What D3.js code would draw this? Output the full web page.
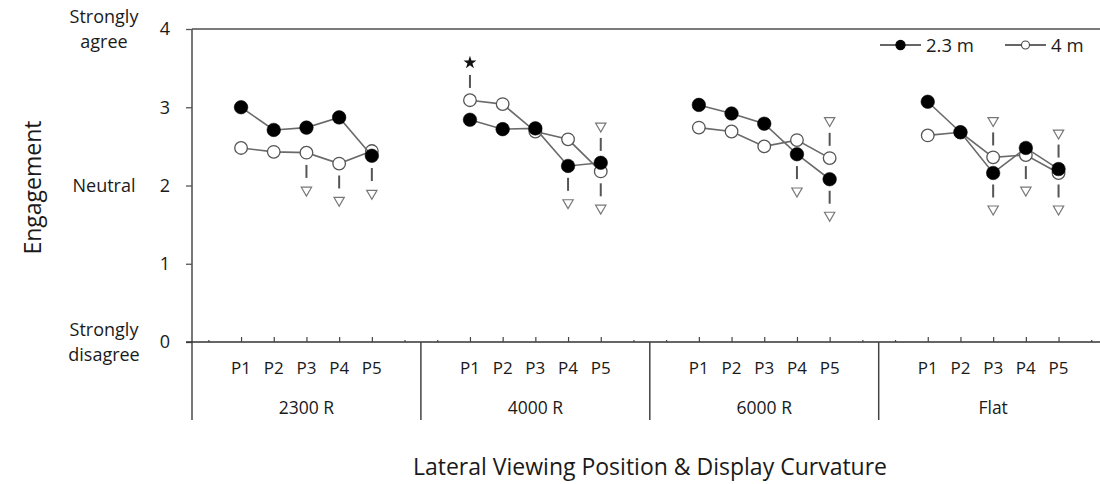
<!DOCTYPE html>
<html>
<head>
<meta charset="utf-8">
<script src="https://cdn.jsdelivr.net/npm/d3@7"></script>
<style>
  html, body { margin: 0; padding: 0; background: #fff; }
  svg { display: block; font-family: "Open Sans", "Noto Sans", sans-serif; }
</style>
</head>
<body>
<svg id="chart" width="1100" height="484"></svg>
<script>
// Display curvature groups and lateral viewing positions
const groups = ["2300 R", "4000 R", "6000 R", "Flat"];
const positions = ["P1", "P2", "P3", "P4", "P5"];

// Mean engagement per group (rows) and position (columns)
const near23 = [
  [3.00, 2.71, 2.74, 2.87, 2.38],
  [2.84, 2.72, 2.73, 2.25, 2.29],
  [3.03, 2.92, 2.79, 2.40, 2.08],
  [3.07, 2.68, 2.16, 2.48, 2.21]
];
const far4 = [
  [2.48, 2.43, 2.42, 2.28, 2.44],
  [3.09, 3.04, 2.69, 2.59, 2.18],
  [2.74, 2.69, 2.50, 2.58, 2.35],
  [2.64, 2.68, 2.36, 2.39, 2.16]
];

// Significance markers: [group, position, level, symbol]
const markers = [
  ["2300 R", "P3", 1.94, "tri"],
  ["2300 R", "P4", 1.81, "tri"],
  ["2300 R", "P5", 1.90, "tri"],
  ["4000 R", "P1", 3.57, "star"],
  ["4000 R", "P4", 1.78, "tri"],
  ["4000 R", "P5", 2.76, "tri"],
  ["4000 R", "P5", 1.71, "tri"],
  ["6000 R", "P4", 1.93, "tri"],
  ["6000 R", "P5", 2.83, "tri"],
  ["6000 R", "P5", 1.62, "tri"],
  ["Flat", "P3", 2.83, "tri"],
  ["Flat", "P3", 1.70, "tri"],
  ["Flat", "P4", 1.94, "tri"],
  ["Flat", "P5", 2.67, "tri"],
  ["Flat", "P5", 1.70, "tri"]
];

const yTicks = [0, 1, 2, 3, 4];
const yAnchors = [
  { v: 4, lines: ["Strongly", "agree"] },
  { v: 2, lines: ["Neutral"] },
  { v: 0, lines: ["Strongly", "disagree"] }
];
const seriesNames = ["2.3 m", "4 m"];

(function () {
const svg = d3.select("#chart");
const left = 192, right = 1107.6, plotTop = 29, plotBottom = 342;
const ink = "#1a1a1a";

// Each group holds 7 slots: an empty slot, P1..P5, an empty slot
const slotKeys = [];
groups.forEach(g => {
  slotKeys.push(g + "|a");
  positions.forEach(p => slotKeys.push(g + "|" + p));
  slotKeys.push(g + "|b");
});
const x = d3.scalePoint().domain(slotKeys).range([left, right]).padding(0.5);
const step = x.step();
const y = d3.scaleLinear().domain([0, 4]).range([plotBottom, plotTop]);

// Frame: top border
svg.append("line")
  .attr("x1", left).attr("x2", 1100).attr("y1", plotTop).attr("y2", plotTop)
  .attr("stroke", "#7a7a7a").attr("stroke-width", 2);

// Y axis
const yAxis = d3.axisLeft(y).tickValues(yTicks).tickSize(6).tickFormat(d3.format("d"));
const gy = svg.append("g").attr("transform", `translate(${left},0)`).call(yAxis);
gy.select(".domain").remove();
gy.selectAll(".tick line").attr("stroke", "#555").attr("stroke-width", 1.3);
gy.selectAll(".tick text").attr("x", -22).attr("font-size", 18).attr("fill", ink)
  .attr("font-family", "Open Sans, sans-serif");
svg.append("line")
  .attr("x1", left).attr("x2", left).attr("y1", plotTop).attr("y2", 420)
  .attr("stroke", "#555").attr("stroke-width", 1.6);

// Verbal anchors for the scale
yAnchors.forEach(a => {
  const n = a.lines.length;
  const t = svg.append("text")
    .attr("x", 104).attr("text-anchor", "middle")
    .attr("font-size", 18).attr("fill", ink);
  a.lines.forEach((ln, i) => {
    t.append("tspan").attr("x", 104)
      .attr("y", y(a.v) + 6 + (i - (n - 1) / 2) * 25)
      .text(ln);
  });
});

// Y axis title
svg.append("text")
  .attr("transform", `translate(41,${(plotTop + plotBottom) / 2 + 2}) rotate(-90)`)
  .attr("text-anchor", "middle").attr("font-size", 23).attr("fill", ink)
  .text("Engagement");

// X axis baseline with minor (empty slots) and major (positions) ticks
svg.append("line")
  .attr("x1", 186).attr("x2", 1100).attr("y1", plotBottom).attr("y2", plotBottom)
  .attr("stroke", "#333").attr("stroke-width", 1.5);
const xAxis = d3.axisTop(x).tickSize(0).tickFormat("");
const gx = svg.append("g").attr("transform", `translate(0,${plotBottom})`).call(xAxis);
gx.select(".domain").remove();
gx.selectAll(".tick line")
  .attr("y2", d => d.endsWith("|a") || d.endsWith("|b") ? -2 : -5)
  .attr("stroke", "#444").attr("stroke-width", 1.2);

// Group separators and labels
groups.forEach((g, gi) => {
  const x0 = x(g + "|a") - step / 2;
  if (gi > 0) {
    svg.append("line")
      .attr("x1", x0).attr("x2", x0).attr("y1", plotBottom).attr("y2", 420)
      .attr("stroke", "#444").attr("stroke-width", 1.5);
  }
  positions.forEach(p => {
    svg.append("text")
      .attr("x", x(g + "|" + p)).attr("y", plotBottom + 32)
      .attr("text-anchor", "middle").attr("font-size", 17).attr("fill", ink)
      .text(p);
  });
  svg.append("text")
    .attr("x", x(g + "|P3")).attr("y", plotBottom + 72)
    .attr("text-anchor", "middle").attr("font-size", 17.5).attr("fill", ink)
    .text(g);
});

// X axis title
svg.append("text")
  .attr("x", 650).attr("y", 475)
  .attr("text-anchor", "middle").attr("font-size", 23).attr("fill", ink)
  .text("Lateral Viewing Position & Display Curvature");

// Significance markers with a short dash toward the nearest point
const dash = 13;
markers.forEach(([g, p, v, shape]) => {
  const gi = groups.indexOf(g), pi = positions.indexOf(p);
  const a = near23[gi][pi], b = far4[gi][pi];
  const anchor = v > Math.max(a, b) ? Math.max(a, b) : Math.min(a, b);
  const cx = x(g + "|" + p);
  const mid = (y(v) + y(anchor)) / 2;
  svg.append("line")
    .attr("x1", cx).attr("x2", cx)
    .attr("y1", mid - dash / 2).attr("y2", mid + dash / 2)
    .attr("stroke", "#555").attr("stroke-width", 2);
  if (shape === "star") {
    svg.append("path")
      .attr("d", d3.symbol().type(d3.symbolStar).size(52)())
      .attr("transform", `translate(${cx},${y(v)})`)
      .attr("fill", "#111");
  } else {
    svg.append("path")
      .attr("d", d3.symbol().type(d3.symbolTriangle).size(46)())
      .attr("transform", `translate(${cx},${y(v)}) rotate(180)`)
      .attr("fill", "#fff").attr("stroke", "#777").attr("stroke-width", 1.2);
  }
});

// Series lines and points (4 m drawn first, 2.3 m on top)
const line = d3.line().x(d => d.x).y(d => d.y);
function drawSeries(data, filled) {
  data.forEach((row, gi) => {
    const pts = row.map((v, pi) => ({ x: x(groups[gi] + "|" + positions[pi]), y: y(v) }));
    svg.append("path").attr("d", line(pts))
      .attr("fill", "none").attr("stroke", "#6a6a6a").attr("stroke-width", 1.6);
    svg.selectAll(null).data(pts).enter().append("circle")
      .attr("cx", d => d.x).attr("cy", d => d.y).attr("r", filled ? 6.8 : 6.3)
      .attr("fill", filled ? "#000" : "#fff")
      .attr("stroke", filled ? "#000" : "#555")
      .attr("stroke-width", filled ? 0.5 : 1.3);
  });
}
drawSeries(far4, false);
drawSeries(near23, true);

// Legend
const legend = [
  { name: seriesNames[0], x0: 880, filled: true },
  { name: seriesNames[1], x0: 1005, filled: false }
];
legend.forEach(l => {
  svg.append("line")
    .attr("x1", l.x0).attr("x2", l.x0 + 41).attr("y1", 45).attr("y2", 45)
    .attr("stroke", "#333").attr("stroke-width", 1.5);
  svg.append("circle")
    .attr("cx", l.x0 + 20.5).attr("cy", 45).attr("r", l.filled ? 4.6 : 4)
    .attr("fill", l.filled ? "#000" : "#fff")
    .attr("stroke", l.filled ? "#000" : "#444").attr("stroke-width", 1.1);
  svg.append("text")
    .attr("x", l.x0 + 46).attr("y", 52)
    .attr("font-size", 18.5).attr("fill", ink)
    .text(l.name);
});
})();
</script>
</body>
</html>
